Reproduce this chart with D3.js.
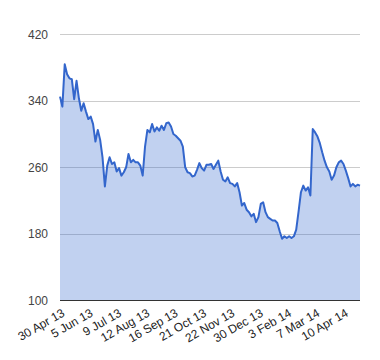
<!DOCTYPE html>
<html>
<head>
<meta charset="utf-8">
<script src="https://cdn.jsdelivr.net/npm/d3@7"></script>
<style>
  html, body { margin: 0; padding: 0; background: #fff; }
  svg { display: block; }
  text { font-family: "Liberation Sans", Arial, sans-serif; }
</style>
</head>
<body>
<svg id="chart" width="380" height="360"></svg>
<script>
// Data (one value per sample, evenly spaced in time)
const values = [
  345, 333, 384, 372, 367, 366, 342, 364, 343, 328,
  337, 327, 318, 321, 312, 291, 305, 293, 272, 237,
  262, 272, 264, 266, 255, 259, 250, 254, 260, 276,
  266, 269, 266, 266, 262, 250, 285, 305, 302, 312,
  303, 308, 304, 310, 305, 313, 314, 309, 300, 298,
  295, 292, 285, 260, 254, 253, 249, 250, 257, 265,
  259, 256, 263, 263, 264, 258, 263, 268, 255, 245,
  243, 248, 241, 240, 237, 241, 230, 214, 217, 209,
  206, 201, 204, 194, 200, 216, 218, 206, 200, 198,
  196, 196, 193, 183, 174, 177, 175, 177, 175, 177,
  185, 207, 230, 238, 232, 236, 226, 306, 302, 297,
  289, 278, 268, 260, 255, 245, 250, 260, 266, 268,
  264, 256, 247, 237, 240, 237, 239, 238
];
const tickLabels = ["30 Apr 13", "5 Jun 13", "9 Jul 13", "12 Aug 13", "16 Sep 13",
  "21 Oct 13", "22 Nov 13", "30 Dec 13", "3 Feb 14", "7 Mar 14", "10 Apr 14"];
const labelEvery = 12;
const yTicks = [100, 180, 260, 340, 420];

const svg = d3.select("#chart");
const mLeft = 60, mRight = 360, mTop = 34.3, mBottom = 300.3;

const x = d3.scaleLinear().domain([0, values.length - 1]).range([mLeft, mRight]);
const y = d3.scaleLinear().domain([100, 420]).range([mBottom, mTop]);

// gridlines
svg.append("g").selectAll("line").data(yTicks.filter(d => d !== 100)).join("line")
  .attr("x1", mLeft).attr("x2", mRight)
  .attr("y1", d => Math.round(y(d)) + 0.5).attr("y2", d => Math.round(y(d)) + 0.5)
  .attr("stroke", "#cccccc").attr("stroke-width", 1);

// area
const area = d3.area().x((d, i) => x(i)).y0(y(100)).y1(d => y(d));
svg.append("path").datum(values).attr("d", area)
  .attr("fill", "#3366cc").attr("fill-opacity", 0.3);

// line
const line = d3.line().x((d, i) => x(i)).y(d => y(d));
svg.append("path").datum(values).attr("d", line)
  .attr("fill", "none").attr("stroke", "#3366cc").attr("stroke-width", 2)
  .attr("stroke-linejoin", "round");

// baseline
svg.append("line").attr("x1", mLeft).attr("x2", mRight)
  .attr("y1", Math.round(y(100)) + 0.5).attr("y2", Math.round(y(100)) + 0.5)
  .attr("stroke", "#333333").attr("stroke-width", 1);

// y axis labels
const yAxis = d3.axisLeft(y).tickValues(yTicks).tickSize(0).tickPadding(12);
const gy = svg.append("g").attr("transform", `translate(${mLeft},0)`).call(yAxis);
gy.select(".domain").remove();
gy.selectAll("text").attr("fill", "#444").style("font-size", "12px")
  .style("font-family", "'Liberation Sans', Arial, sans-serif");

// x axis labels (slanted)
const tickIdx = tickLabels.map((d, i) => i * labelEvery);
const xAxis = d3.axisBottom(x).tickValues(tickIdx)
  .tickFormat((d, i) => tickLabels[i]).tickSize(0).tickPadding(0);
const gx = svg.append("g").attr("transform", `translate(0,${mBottom})`).call(xAxis);
gx.select(".domain").remove();
gx.selectAll("text")
  .attr("fill", "#222").style("font-size", "12px")
  .style("font-family", "'Liberation Sans', Arial, sans-serif")
  .attr("text-anchor", "end")
  .attr("dy", "0")
  .attr("y", 0)
  .attr("transform", "translate(5,15) rotate(-30)");
</script>
</body>
</html>
